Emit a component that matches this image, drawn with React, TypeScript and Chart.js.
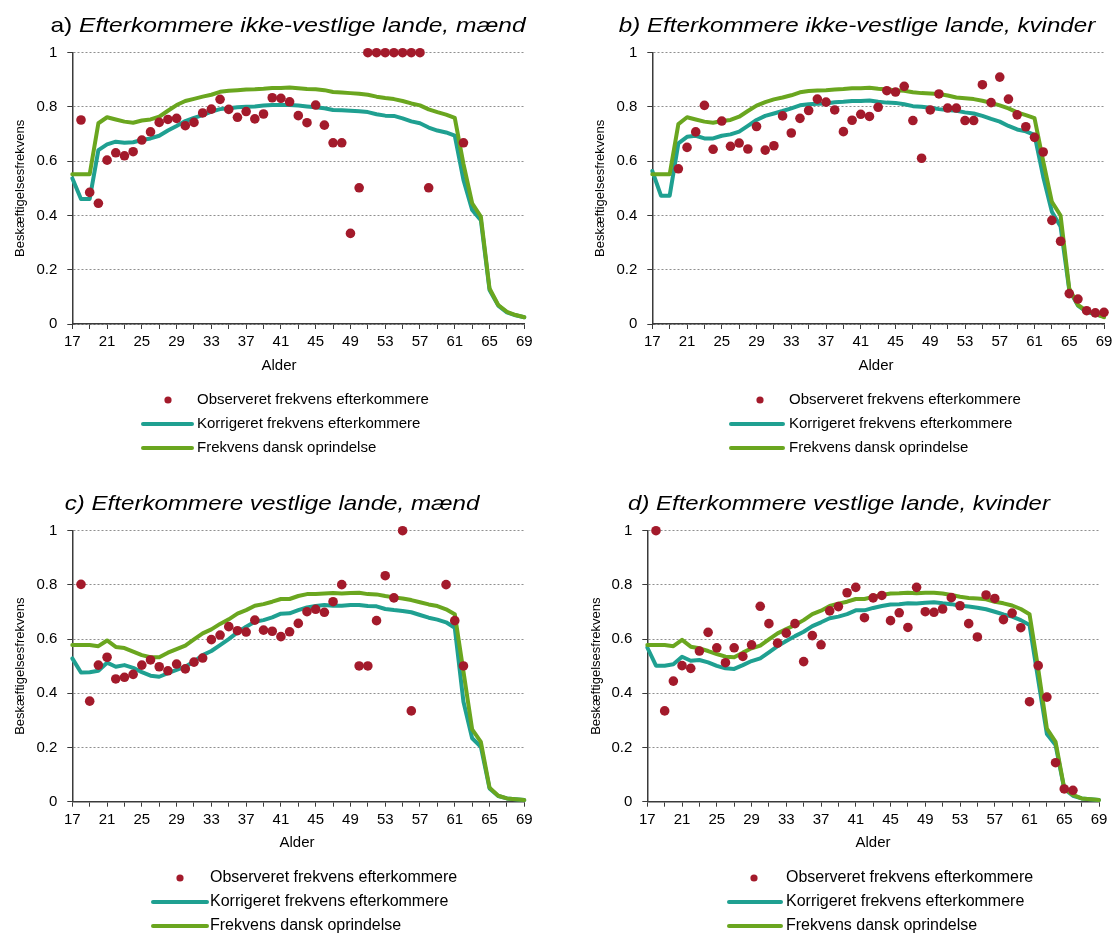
import React, { useEffect, useRef } from 'react';
import { Chart, registerables } from 'chart.js';

Chart.register(...registerables);

// ---------- DATA ----------
const ages = [17, 18, 19, 20, 21, 22, 23, 24, 25, 26, 27, 28, 29, 30, 31, 32, 33, 34, 35, 36, 37, 38, 39, 40, 41, 42, 43, 44, 45, 46, 47, 48, 49, 50, 51, 52, 53, 54, 55, 56, 57, 58, 59, 60, 61, 62, 63, 64, 65, 66, 67, 68, 69];
const yTicks = [0, 0.2, 0.4, 0.6, 0.8, 1];

const labelObserved = 'Observeret frekvens efterkommere';
const labelCorrected = 'Korrigeret frekvens efterkommere';
const labelDanish = 'Frekvens dansk oprindelse';

// a) ikke-vestlige, mænd
const obsA = [null, 0.752, 0.485, 0.445, 0.604, 0.631, 0.62, 0.635, 0.678, 0.708, 0.743, 0.754, 0.758, 0.731, 0.743, 0.778, 0.792, 0.828, 0.791, 0.762, 0.783, 0.756, 0.774, 0.834, 0.832, 0.819, 0.768, 0.742, 0.807, 0.733, 0.668, 0.668, 0.334, 0.502, 1, 1, 1, 1, 1, 1, 1, 0.502, null, null, null, 0.668, null, null, null, null, null, null, null];
const korA = [0.537, 0.461, 0.461, 0.641, 0.662, 0.672, 0.668, 0.67, 0.678, 0.684, 0.694, 0.713, 0.73, 0.748, 0.76, 0.77, 0.783, 0.792, 0.795, 0.799, 0.801, 0.802, 0.805, 0.807, 0.807, 0.807, 0.805, 0.802, 0.799, 0.795, 0.789, 0.788, 0.786, 0.784, 0.781, 0.773, 0.768, 0.767, 0.758, 0.747, 0.74, 0.724, 0.713, 0.706, 0.694, 0.531, 0.42, 0.383, 0.125, 0.068, 0.043, 0.032, 0.025];
const dkA = [0.552, 0.552, 0.552, 0.74, 0.762, 0.754, 0.746, 0.742, 0.75, 0.754, 0.764, 0.786, 0.807, 0.822, 0.83, 0.838, 0.845, 0.856, 0.86, 0.862, 0.864, 0.865, 0.867, 0.87, 0.87, 0.872, 0.869, 0.866, 0.865, 0.862, 0.855, 0.853, 0.851, 0.849, 0.845, 0.838, 0.833, 0.829, 0.822, 0.813, 0.806, 0.791, 0.781, 0.772, 0.76, 0.59, 0.445, 0.396, 0.131, 0.07, 0.045, 0.033, 0.025];

// b) ikke-vestlige, kvinder
const obsB = [null, null, null, 0.572, 0.651, 0.708, 0.806, 0.644, 0.748, 0.655, 0.667, 0.645, 0.728, 0.641, 0.657, 0.767, 0.704, 0.758, 0.787, 0.829, 0.818, 0.789, 0.709, 0.751, 0.773, 0.765, 0.799, 0.86, 0.855, 0.876, 0.75, 0.611, 0.789, 0.848, 0.796, 0.796, 0.75, 0.75, 0.882, 0.816, 0.91, 0.829, 0.771, 0.727, 0.688, 0.634, 0.382, 0.305, 0.112, 0.092, 0.049, 0.041, 0.043];
const korB = [0.564, 0.473, 0.473, 0.666, 0.69, 0.694, 0.684, 0.684, 0.694, 0.699, 0.709, 0.73, 0.752, 0.767, 0.776, 0.785, 0.795, 0.806, 0.81, 0.812, 0.813, 0.817, 0.819, 0.822, 0.822, 0.824, 0.819, 0.816, 0.815, 0.81, 0.803, 0.801, 0.797, 0.792, 0.789, 0.786, 0.78, 0.776, 0.767, 0.756, 0.746, 0.73, 0.717, 0.71, 0.697, 0.543, 0.414, 0.359, 0.125, 0.068, 0.045, 0.036, 0.027];
const dkB = [0.552, 0.552, 0.552, 0.737, 0.762, 0.754, 0.746, 0.742, 0.748, 0.752, 0.764, 0.785, 0.805, 0.818, 0.828, 0.835, 0.843, 0.854, 0.859, 0.861, 0.862, 0.864, 0.866, 0.869, 0.869, 0.871, 0.867, 0.864, 0.862, 0.86, 0.854, 0.851, 0.85, 0.848, 0.842, 0.835, 0.832, 0.829, 0.823, 0.815, 0.806, 0.795, 0.78, 0.77, 0.759, 0.6, 0.45, 0.4, 0.131, 0.07, 0.048, 0.037, 0.025];

// c) vestlige, mænd
const obsC = [null, 0.802, 0.371, 0.504, 0.533, 0.453, 0.459, 0.47, 0.504, 0.523, 0.498, 0.483, 0.508, 0.49, 0.515, 0.53, 0.598, 0.615, 0.646, 0.631, 0.626, 0.67, 0.633, 0.629, 0.609, 0.627, 0.658, 0.701, 0.71, 0.699, 0.738, 0.801, null, 0.501, 0.501, 0.668, 0.834, 0.752, 1, 0.335, null, null, null, 0.801, 0.668, 0.501, null, null, null, null, null, null, null];
const korC = [0.529, 0.477, 0.478, 0.483, 0.513, 0.498, 0.504, 0.494, 0.478, 0.465, 0.461, 0.474, 0.486, 0.498, 0.517, 0.541, 0.556, 0.578, 0.6, 0.625, 0.646, 0.664, 0.67, 0.68, 0.694, 0.695, 0.707, 0.717, 0.722, 0.726, 0.723, 0.723, 0.726, 0.726, 0.722, 0.721, 0.711, 0.707, 0.704, 0.699, 0.689, 0.679, 0.672, 0.662, 0.642, 0.369, 0.234, 0.203, 0.049, 0.021, 0.012, 0.009, 0.006];
const dkC = [0.578, 0.578, 0.578, 0.574, 0.595, 0.571, 0.567, 0.554, 0.541, 0.533, 0.533, 0.55, 0.563, 0.576, 0.599, 0.621, 0.636, 0.656, 0.673, 0.694, 0.707, 0.723, 0.729, 0.738, 0.748, 0.748, 0.759, 0.766, 0.766, 0.768, 0.77, 0.768, 0.77, 0.771, 0.766, 0.765, 0.759, 0.754, 0.75, 0.744, 0.736, 0.728, 0.722, 0.71, 0.692, 0.48, 0.267, 0.221, 0.052, 0.022, 0.012, 0.009, 0.006];

// d) vestlige, kvinder
const obsD = [null, 1, 0.335, 0.445, 0.502, 0.492, 0.556, 0.625, 0.568, 0.513, 0.568, 0.536, 0.579, 0.721, 0.657, 0.585, 0.622, 0.657, 0.517, 0.613, 0.579, 0.704, 0.72, 0.771, 0.791, 0.679, 0.752, 0.761, 0.668, 0.697, 0.643, 0.791, 0.701, 0.699, 0.711, 0.753, 0.723, 0.657, 0.608, 0.763, 0.75, 0.672, 0.696, 0.642, 0.369, 0.502, 0.386, 0.144, 0.047, 0.042, null, null, null];
const korD = [0.569, 0.502, 0.502, 0.507, 0.535, 0.52, 0.523, 0.514, 0.501, 0.492, 0.49, 0.504, 0.519, 0.529, 0.551, 0.574, 0.593, 0.611, 0.627, 0.648, 0.662, 0.677, 0.683, 0.692, 0.706, 0.706, 0.715, 0.722, 0.728, 0.729, 0.732, 0.731, 0.734, 0.736, 0.732, 0.729, 0.723, 0.72, 0.716, 0.71, 0.701, 0.691, 0.683, 0.67, 0.652, 0.45, 0.25, 0.209, 0.047, 0.022, 0.012, 0.009, 0.006];
const dkD = [0.578, 0.578, 0.578, 0.574, 0.597, 0.572, 0.566, 0.556, 0.545, 0.535, 0.533, 0.55, 0.566, 0.576, 0.599, 0.621, 0.637, 0.652, 0.67, 0.692, 0.705, 0.722, 0.731, 0.738, 0.748, 0.748, 0.756, 0.763, 0.768, 0.769, 0.771, 0.769, 0.771, 0.771, 0.768, 0.763, 0.756, 0.752, 0.75, 0.747, 0.738, 0.732, 0.724, 0.711, 0.692, 0.49, 0.27, 0.221, 0.049, 0.025, 0.012, 0.009, 0.006];

// ---------- STYLE ----------
const RED = '#a31a2b';
const TEAL = '#1fa091';
const GREEN = '#6aa61f';
const AXIS = '#3a3a3a';
const GRID = '#8f8f8f';
const FAMILY = '"Liberation Sans", Arial, Helvetica, sans-serif';
const X_H = 30;

type PanelCfg = {
  key: string;
  ox: number; oy: number; w: number; h: number;
  L: number; R: number; T: number; B: number;
  obs: (number | null)[]; kor: number[]; dk: number[];
  titleLead: string; titleLeadItalic: boolean; titleRest: string;
  titleCx: number; titleBase: number; titleStretch: number;
  yTitleX: number;
  alderX: number; alderY: number;
  legDot: number; legL1: number; legL2: number; legText: number; legRows: number[]; legFont: number;
};

const panels: PanelCfg[] = [
  {
    key: 'a', ox: 0, oy: 0, w: 558, h: 467, L: 72.3, R: 524.3, T: 52.7, B: 324,
    obs: obsA, kor: korA, dk: dkA,
    titleLead: 'a) ', titleLeadItalic: false, titleRest: 'Efterkommere ikke-vestlige lande, mænd',
    titleCx: 288, titleBase: 32, titleStretch: 1.17, yTitleX: 20, alderX: 279, alderY: 366,
    legDot: 168, legL1: 143, legL2: 192, legText: 197, legRows: [400, 424, 448], legFont: 15,
  },
  {
    key: 'b', ox: 558, oy: 0, w: 559, h: 467, L: 652.3, R: 1104, T: 52.7, B: 324,
    obs: obsB, kor: korB, dk: dkB,
    titleLead: 'b) ', titleLeadItalic: true, titleRest: 'Efterkommere ikke-vestlige lande, kvinder',
    titleCx: 857, titleBase: 32, titleStretch: 1.15, yTitleX: 600, alderX: 876, alderY: 366,
    legDot: 760, legL1: 731, legL2: 783, legText: 789, legRows: [400, 424, 448], legFont: 15,
  },
  {
    key: 'c', ox: 0, oy: 467, w: 558, h: 467, L: 72.3, R: 524.3, T: 530.7, B: 801.7,
    obs: obsC, kor: korC, dk: dkC,
    titleLead: 'c) ', titleLeadItalic: true, titleRest: 'Efterkommere vestlige lande, mænd',
    titleCx: 272, titleBase: 510, titleStretch: 1.15, yTitleX: 20, alderX: 297, alderY: 843,
    legDot: 180, legL1: 153, legL2: 207, legText: 210, legRows: [878, 902, 926], legFont: 16,
  },
  {
    key: 'd', ox: 558, oy: 467, w: 559, h: 467, L: 647.3, R: 1099, T: 530.7, B: 801.7,
    obs: obsD, kor: korD, dk: dkD,
    titleLead: 'd) ', titleLeadItalic: true, titleRest: 'Efterkommere vestlige lande, kvinder',
    titleCx: 839, titleBase: 510, titleStretch: 1.14, yTitleX: 596, alderX: 873, alderY: 843,
    legDot: 754, legL1: 729, legL2: 781, legText: 786, legRows: [878, 902, 926], legFont: 16,
  },
];

function toXY(vals: (number | null)[]) {
  return ages.map((a, i) => ({ x: a, y: vals[i] }));
}

function makeTextPlugin(cfg: PanelCfg) {
  return {
    id: 'panelText' + cfg.key,
    afterDraw(chart: any) {
      const ctx: CanvasRenderingContext2D = chart.ctx;
      const ox = cfg.ox, oy = cfg.oy;
      ctx.save();
      ctx.fillStyle = '#000';
      // Title
      const tSize = 21;
      const leadFont = (cfg.titleLeadItalic ? 'italic ' : '') + tSize + 'px ' + FAMILY;
      const restFont = 'italic ' + tSize + 'px ' + FAMILY;
      ctx.font = leadFont;
      const w1 = ctx.measureText(cfg.titleLead).width;
      ctx.font = restFont;
      const w2 = ctx.measureText(cfg.titleRest).width;
      const total = w1 + w2;
      ctx.save();
      ctx.translate(cfg.titleCx - ox, cfg.titleBase - oy);
      ctx.scale(cfg.titleStretch, 1);
      ctx.textBaseline = 'alphabetic';
      ctx.textAlign = 'left';
      ctx.font = leadFont;
      ctx.fillText(cfg.titleLead, -total / 2, 0);
      ctx.font = restFont;
      ctx.fillText(cfg.titleRest, -total / 2 + w1, 0);
      ctx.restore();

      // Y axis title
      ctx.save();
      ctx.translate(cfg.yTitleX - ox, (cfg.T + cfg.B) / 2 - oy);
      ctx.rotate(-Math.PI / 2);
      ctx.font = '13px ' + FAMILY;
      ctx.textAlign = 'center';
      ctx.textBaseline = 'middle';
      ctx.fillText('Beskæftigelsesfrekvens', 0, 0);
      ctx.restore();

      // X axis title
      ctx.font = '15px ' + FAMILY;
      ctx.textAlign = 'center';
      ctx.textBaseline = 'middle';
      ctx.fillText('Alder', cfg.alderX - ox, cfg.alderY - oy);

      // Legend
      const ds = chart.data.datasets;
      ctx.textAlign = 'left';
      ctx.textBaseline = 'middle';
      ctx.font = cfg.legFont + 'px ' + FAMILY;
      ctx.fillStyle = ds[0].pointBackgroundColor;
      ctx.beginPath();
      ctx.arc(cfg.legDot - ox, cfg.legRows[0] - oy, 3.6, 0, Math.PI * 2);
      ctx.fill();
      ctx.fillStyle = '#000';
      ctx.fillText(ds[0].label, cfg.legText - ox, cfg.legRows[0] - oy);
      const lineItems = [ds[2], ds[1]];
      lineItems.forEach((d: any, i: number) => {
        const y = cfg.legRows[i + 1] - oy;
        ctx.strokeStyle = d.borderColor;
        ctx.lineWidth = 4;
        ctx.lineCap = 'round';
        ctx.beginPath();
        ctx.moveTo(cfg.legL1 - ox, y);
        ctx.lineTo(cfg.legL2 - ox, y);
        ctx.stroke();
        ctx.fillStyle = '#000';
        ctx.fillText(d.label, cfg.legText - ox, y);
      });
      ctx.restore();
    },
  };
}

function Panel({ cfg }: { cfg: PanelCfg }) {
  const ref = useRef<HTMLCanvasElement>(null);
  useEffect(() => {
    const canvas = ref.current;
    if (!canvas) return;
    const yW = cfg.L - cfg.ox;
    const padTop = cfg.T - cfg.oy;
    const padRight = cfg.ox + cfg.w - cfg.R;
    const padBottom = cfg.oy + cfg.h - cfg.B - X_H;
    const chart = new Chart(canvas, {
      type: 'line',
      data: {
        datasets: [
          {
            label: labelObserved,
            data: toXY(cfg.obs),
            showLine: false,
            pointRadius: 4.8,
            pointBackgroundColor: RED,
            pointBorderColor: RED,
            pointBorderWidth: 0,
            borderColor: RED,
            backgroundColor: RED,
            clip: false,
          } as any,
          {
            label: labelDanish,
            data: toXY(cfg.dk),
            borderColor: GREEN,
            backgroundColor: GREEN,
            borderWidth: 4,
            pointRadius: 0,
            tension: 0,
            fill: false,
            borderJoinStyle: 'round',
            borderCapStyle: 'round',
            clip: false,
          } as any,
          {
            label: labelCorrected,
            data: toXY(cfg.kor),
            borderColor: TEAL,
            backgroundColor: TEAL,
            borderWidth: 4,
            pointRadius: 0,
            tension: 0,
            fill: false,
            borderJoinStyle: 'round',
            borderCapStyle: 'round',
            clip: false,
          } as any,
        ],
      },
      options: {
        animation: false,
        responsive: false,
        events: [],
        layout: { padding: { left: 0, top: padTop, right: padRight, bottom: padBottom } },
        plugins: {
          legend: { display: false },
          tooltip: { enabled: false },
          title: { display: false },
        },
        scales: {
          x: {
            type: 'linear',
            min: ages[0],
            max: ages[ages.length - 1],
            afterFit: (s: any) => { s.height = X_H; },
            ticks: {
              stepSize: 2,
              autoSkip: false,
              maxRotation: 0,
              minRotation: 0,
              includeBounds: true,
              color: '#000',
              padding: 4,
              font: { family: FAMILY, size: 15 },
              callback: (v: any) => ((Number(v) - ages[0]) % 4 === 0 ? String(v) : ''),
            },
            grid: {
              display: true,
              drawOnChartArea: false,
              drawTicks: true,
              tickLength: 5,
              tickColor: AXIS,
              tickWidth: 1,
            },
            border: { display: true, color: AXIS, width: 1.5 },
          },
          y: {
            type: 'linear',
            min: yTicks[0],
            max: yTicks[yTicks.length - 1],
            afterFit: (s: any) => { s.width = yW; },
            afterBuildTicks: (s: any) => { s.ticks = yTicks.map((v) => ({ value: v })); },
            ticks: {
              color: '#000',
              padding: 10,
              font: { family: FAMILY, size: 15 },
              callback: (v: any) => String(Math.round(Number(v) * 10) / 10),
            },
            grid: {
              color: GRID,
              lineWidth: 1,
              drawTicks: true,
              tickLength: 5,
              tickColor: AXIS,
              tickWidth: 1,
            },
            border: { display: true, color: AXIS, width: 1.5, dash: [2, 2] },
          },
        },
      } as any,
      plugins: [makeTextPlugin(cfg)],
    });
    return () => chart.destroy();
  }, [cfg]);

  return (
    <canvas
      ref={ref}
      width={cfg.w}
      height={cfg.h}
      style={{ position: 'absolute', left: cfg.ox, top: cfg.oy, width: cfg.w, height: cfg.h }}
    />
  );
}

export default function App() {
  return (
    <div style={{ position: 'absolute', left: 0, top: 0, width: 1117, height: 934, background: '#fff', overflow: 'hidden' }}>
      {panels.map((p) => (
        <Panel key={p.key} cfg={p} />
      ))}
    </div>
  );
}
